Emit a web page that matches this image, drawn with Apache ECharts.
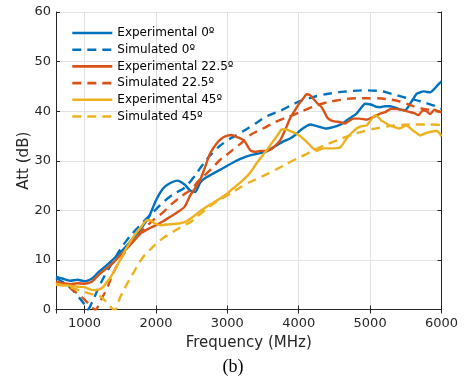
<!DOCTYPE html>
<html>
<head>
<meta charset="utf-8">
<script src="https://cdn.jsdelivr.net/npm/echarts@6/dist/echarts.min.js"></script>
<style>html,body{margin:0;padding:0;background:#fff}#c{width:466px;height:377px}</style>
</head>
<body>
<div id="c"></div>
<script>
// ---- data (frequency in MHz, attenuation in dB) ----
var legendNames = ['Experimental 0º','Simulated 0º','Experimental 22.5º','Simulated 22.5º','Experimental 45º','Simulated 45º'];
var xTicks = [1000, 2000, 3000, 4000, 5000, 6000];

var exp0F = [600,700,800,900,1000,1100,1200,1300,1400,1500,1600,1700,1800,1900,2000,2100,2200,2300,2400,2480,2550,2620,2700,2850,3000,3100,3200,3320,3450,3550,3690,3800,3880,3950,4020,4100,4160,4230,4300,4390,4460,4530,4600,4670,4740,4810,4870,4930,5020,5080,5140,5210,5280,5370,5430,5490,5530,5560,5610,5650,5700,5744,5790,5840,5900,5950,6000];
var exp0V = [6.6,6.2,5.8,6.0,5.7,6.2,7.6,8.8,10.1,11.5,13.0,14.7,16.5,18.6,22.0,24.4,25.5,26.0,25.2,24.0,23.7,25.6,26.6,27.8,29.0,29.8,30.5,31.1,31.5,31.9,33.1,34.0,34.5,35.2,36.1,36.9,37.3,37.1,36.8,36.5,36.7,37.0,37.4,38.1,38.8,39.5,40.6,41.5,41.3,40.9,40.8,41.0,41.0,40.6,40.3,40.2,40.8,41.5,42.6,43.5,43.8,44.0,43.9,43.8,44.5,45.3,46.0];

var sim0F = [600,700,800,900,1000,1040,1100,1200,1300,1400,1500,1600,1700,1800,1900,2000,2100,2200,2300,2400,2520,2660,2820,2990,3170,3360,3560,3760,3950,4100,4300,4500,4700,4900,5100,5300,5500,5700,5900,6000];
var sim0V = [6.3,5.5,4.4,2.8,1.0,0.0,1.3,4.5,7.3,9.7,12.1,14.1,15.8,17.3,18.8,20.2,21.6,22.8,23.7,24.6,26.5,29.3,32.0,34.0,35.5,37.2,39.0,40.2,41.6,42.4,43.2,43.7,44.0,44.2,44.1,43.5,42.7,42.0,41.1,40.5];

var exp22F = [600,700,800,900,1000,1100,1200,1300,1400,1500,1600,1700,1800,1900,2000,2100,2200,2300,2400,2480,2550,2620,2690,2760,2850,2920,2990,3060,3130,3200,3250,3290,3330,3400,3460,3530,3600,3670,3740,3810,3880,3940,3995,4060,4110,4160,4204,4260,4320,4360,4400,4460,4520,4580,4650,4700,4765,4850,4950,5040,5140,5210,5300,5380,5460,5560,5620,5675,5744,5790,5840,5900,5950,6000];
var exp22V = [5.5,5.3,5.1,5.3,5.2,5.6,7.0,8.2,9.4,10.9,12.4,14.0,15.5,16.3,17.0,17.8,18.7,19.6,20.7,23.0,24.5,26.1,28.8,31.5,33.5,34.5,35.0,35.2,34.8,34.4,33.8,32.8,32.0,31.8,32.0,32.0,32.2,33.0,34.1,36.2,38.6,40.0,41.3,42.5,43.4,43.2,42.5,41.6,40.8,39.8,38.7,38.1,37.9,37.8,37.5,38.0,38.5,38.5,38.3,38.8,39.5,39.8,40.5,40.4,40.2,39.8,39.6,39.2,40.2,40.0,39.4,40.3,40.0,39.8];

var sim22F = [600,700,800,900,1000,1100,1150,1200,1250,1300,1400,1500,1600,1700,1800,1900,2000,2100,2200,2300,2400,2500,2600,2700,2800,2900,3000,3100,3200,3300,3500,3700,3900,4100,4350,4600,4800,5050,5300,5450,5650,5850,6000];
var sim22V = [5.6,5.1,4.3,3.2,2.0,0.5,0.0,1.0,2.5,3.8,7.3,10.0,12.3,14.2,15.8,17.2,18.5,19.6,21.0,22.2,23.3,24.3,26.0,27.3,28.7,30.2,31.3,32.5,33.6,35.0,36.5,38.0,39.1,40.3,41.6,42.3,42.6,42.6,42.3,41.8,40.8,40.2,39.8];

var exp45F = [600,700,800,900,1000,1050,1120,1200,1260,1300,1350,1400,1450,1500,1550,1600,1700,1800,1870,1920,1980,2060,2200,2340,2430,2520,2620,2710,2800,2900,3000,3080,3180,3270,3340,3410,3480,3550,3610,3670,3720,3760,3820,3880,3950,4020,4090,4160,4210,4250,4300,4350,4420,4490,4580,4630,4670,4740,4810,4880,4950,5010,5070,5120,5160,5220,5280,5340,5400,5460,5510,5560,5600,5650,5700,5770,5840,5930,5970,6000];
var exp45V = [5.0,4.9,4.8,4.6,4.5,4.2,3.9,4.0,4.5,5.3,6.2,7.4,8.7,10.0,11.4,12.7,15.0,16.8,18.0,18.0,17.4,17.0,17.2,17.4,17.8,18.7,19.8,20.7,21.5,22.4,23.4,24.4,25.6,26.8,28.0,29.5,30.8,32.1,33.3,34.5,35.5,36.3,36.3,36.0,35.6,35.0,34.1,33.1,32.4,32.0,32.3,32.5,32.5,32.5,32.7,33.6,34.5,35.6,36.5,37.0,37.1,38.2,39.2,38.7,38.1,37.6,37.1,36.8,36.5,36.8,37.1,36.6,36.1,35.6,35.1,35.5,35.8,36.0,35.6,34.9];

var sim45F = [600,700,800,900,1000,1100,1200,1300,1380,1420,1500,1600,1700,1800,1900,2000,2100,2200,2300,2400,2500,2650,2800,3000,3250,3450,3650,3900,4100,4250,4500,4700,4950,5200,5400,5650,5900,6000];
var sim45V = [5.2,4.9,4.5,4.0,3.5,3.1,2.8,1.6,0.3,0.0,2.5,5.3,7.8,10.2,11.8,13.2,14.4,15.3,16.2,17.0,17.8,19.6,21.3,23.0,25.2,26.6,28.0,29.9,31.3,32.4,33.9,35.0,36.1,36.8,37.2,37.3,37.3,37.1];

var colors = ['#0072BD','#D95319','#EDB120'];

function pairs(f, v) { return f.map(function (x, i) { return [x, v[i]]; }); }

var seriesDefs = [
  {f: exp0F,  v: exp0V,  c: 0, dash: false},
  {f: sim0F,  v: sim0V,  c: 0, dash: true},
  {f: exp22F, v: exp22V, c: 1, dash: false},
  {f: sim22F, v: sim22V, c: 1, dash: true},
  {f: exp45F, v: exp45V, c: 2, dash: false},
  {f: sim45F, v: sim45V, c: 2, dash: true}
];

var series = seriesDefs.map(function (d, i) {
  return {
    name: legendNames[i],
    type: 'line',
    data: pairs(d.f, d.v),
    symbol: 'none',
    smooth: d.dash ? 0.5 : 0.2,
    clip: true,
    color: colors[d.c],
    lineStyle: { width: 2.4, color: colors[d.c], type: d.dash ? [9, 6] : 'solid' },
    z: 2 + i
  };
});

var font = 'DejaVu Sans';
var axisCol = '#262626';
var gridCol = '#e2e2e2';

var chart = echarts.init(document.getElementById('c'), null, { renderer: 'canvas' });
chart.setOption({
  animation: false,
  backgroundColor: '#fff',
  grid: { left: 56, right: 24.5, top: 12, bottom: 67.5 },
  legend: {
    data: legendNames,
    orient: 'vertical',
    left: 71,
    top: 27,
    padding: 0,
    itemWidth: 40,
    itemHeight: 12,
    itemGap: 4.7,
    itemStyle: { opacity: 0 },
    lineStyle: { width: 2.6 },
    textStyle: { fontFamily: font, fontSize: 12, color: '#000' },
    backgroundColor: 'transparent',
    selectedMode: false
  },
  xAxis: [{
    type: 'value', min: 600, max: 6000, splitNumber: 5,
    name: 'Frequency (MHz)', nameLocation: 'middle', nameGap: 26, nameMoveOverlap: false,
    nameTextStyle: { fontFamily: font, fontSize: 15, color: axisCol },
    axisLine: { show: true, lineStyle: { color: axisCol, width: 1 } },
    axisTick: { show: true, inside: true, length: 4, lineStyle: { color: axisCol } },
    axisLabel: {
      fontFamily: font, fontSize: 13, color: axisCol, margin: 8,
      formatter: function (v) { return xTicks.indexOf(v) >= 0 ? String(v) : ''; }
    },
    splitLine: { show: true, lineStyle: { color: gridCol, width: 1 } }
  }, {
    type: 'value', min: 600, max: 6000, splitNumber: 5, position: 'top',
    axisLine: { show: true, lineStyle: { color: axisCol, width: 1 } },
    axisTick: { show: true, inside: true, length: 4, lineStyle: { color: axisCol } },
    axisLabel: { show: false }, splitLine: { show: false }
  }],
  yAxis: [{
    type: 'value', min: 0, max: 60, interval: 10,
    name: 'Att (dB)', nameLocation: 'middle', nameGap: 24, nameRotate: 90, nameMoveOverlap: false,
    nameTextStyle: { fontFamily: font, fontSize: 15, color: axisCol },
    axisLine: { show: true, lineStyle: { color: axisCol, width: 1 } },
    axisTick: { show: true, inside: true, length: 4, lineStyle: { color: axisCol } },
    axisLabel: { fontFamily: font, fontSize: 13, color: axisCol, margin: 5 },
    splitLine: { show: true, lineStyle: { color: gridCol, width: 1 } }
  }, {
    type: 'value', min: 0, max: 60, interval: 10, position: 'right',
    axisLine: { show: true, lineStyle: { color: axisCol, width: 1 } },
    axisTick: { show: true, inside: true, length: 4, lineStyle: { color: axisCol } },
    axisLabel: { show: false }, splitLine: { show: false }
  }],
  graphic: [{
    type: 'text', left: 'center', top: 358,
    style: { text: '(b)', font: '18px "Liberation Serif"', fill: '#000' }
  }],
  series: series
});
</script>
</body>
</html>
